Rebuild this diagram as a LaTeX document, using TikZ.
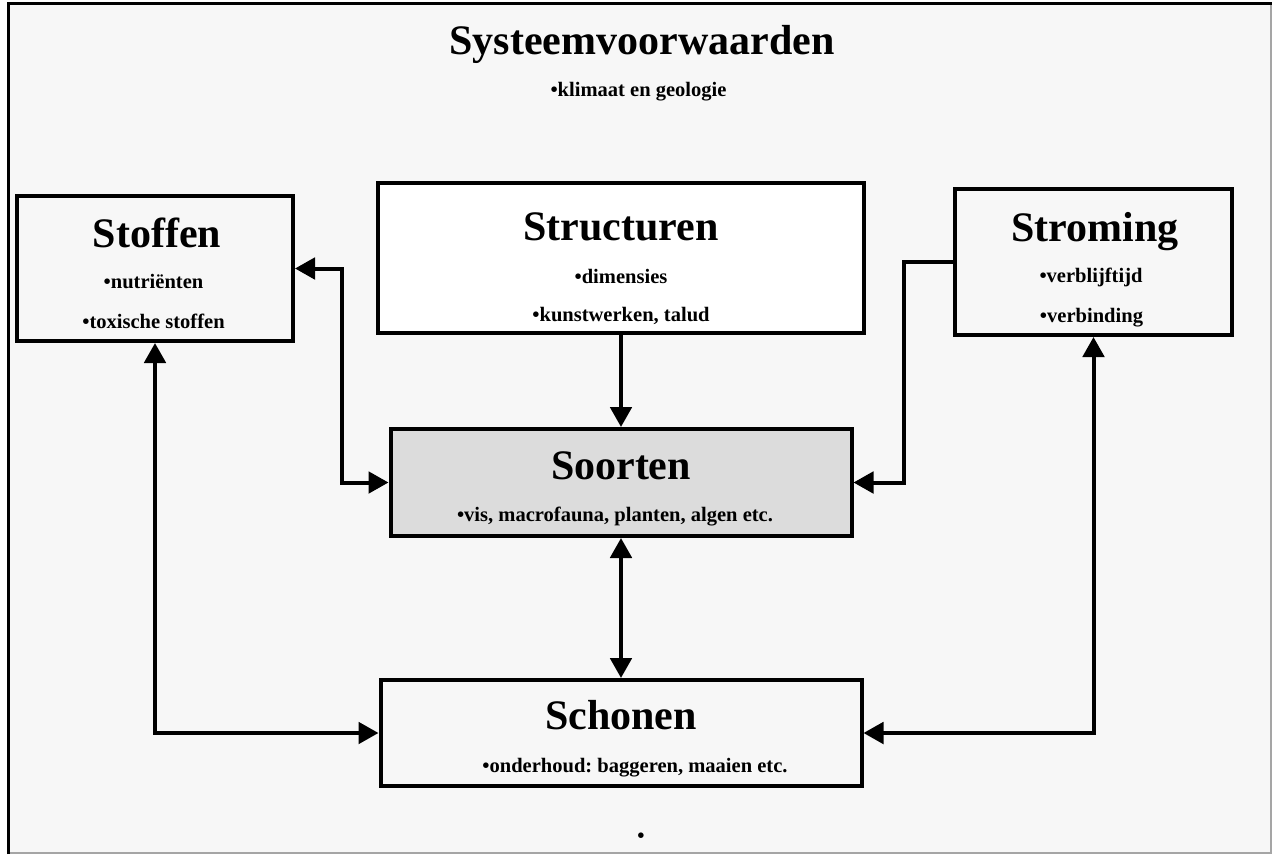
\documentclass[tikz,border=0pt]{standalone}
\usepackage{fontspec}
\setmainfont{Liberation Serif}
\usetikzlibrary{arrows.meta}
\frenchspacing

\definecolor{achtergrond}{RGB}{247,247,247}
\definecolor{soortgrijs}{RGB}{220,220,220}
\definecolor{randgrijs}{RGB}{165,165,165}

\tikzset{every picture/.style={line width=0.75pt}}
\tikzset{
  blok/.style={draw, line width=3pt, inner sep=0pt},
  kop/.style={anchor=base, inner sep=0pt, font=\fontsize{31.5}{36}\selectfont\bfseries},
  punt/.style={anchor=base, inner sep=0pt, font=\fontsize{15.4}{18}\selectfont\bfseries},
  pijl/.style={line width=3pt, -{Triangle[length=15pt,width=16pt]}},
  dubbelpijl/.style={line width=3pt, {Triangle[length=15pt,width=16pt]}-{Triangle[length=15pt,width=16pt]}},
}

\begin{document}
\begin{tikzpicture}[x=0.75pt,y=0.75pt,yscale=-1,xscale=1]
	\useasboundingbox (0,0) rectangle (1272,854);

	%Shape: Frame
	\fill [achtergrond] (7,2) rectangle (1272,854);
	\draw [randgrijs, line width=1.5pt] (1271,4) -- (1271,853) -- (9,853);
	\draw [line width=2.25pt] (8.5,854) -- (8.5,3.5) -- (1272,3.5);

	%Shape: Boxes
	\node [blok, minimum width=207pt, minimum height=108.75pt] (stoffen) at (155,268.5) {};
	\node [blok, fill=white, minimum width=364.5pt, minimum height=112.5pt] (structuren) at (621,258) {};
	\node [blok, minimum width=207.75pt, minimum height=109.5pt] (stroming) at (1093.5,262) {};
	\node [blok, fill=soortgrijs, minimum width=345.75pt, minimum height=80.25pt] (soorten) at (621,482.5) {};
	\node [blok, minimum width=360.75pt, minimum height=79.5pt] (schonen) at (621,733) {};

	%Straight Lines: links
	\coordinate (knikL) at (342,400);
	\coordinate (knikR) at (904,400);
	\draw [dubbelpijl] (stoffen.east) -| (knikL) |- (soorten.west);
	\draw [pijl] (structuren.south) -- (soorten.north);
	\draw [pijl] (stroming.west) -| (knikR) |- (soorten.east);
	\draw [dubbelpijl] (soorten.south) -- (schonen.north);
	\draw [dubbelpijl] (stoffen.south) |- (schonen.west);
	\draw [dubbelpijl] (stroming.south) |- (schonen.east);

	% Text Node
	\node [kop] (titel) at (642,54) {Systeemvoorwaarden};
	\node [punt] (titel-1) at (638.5,96) {•klimaat en geologie};
	% Text Node
	\node [kop] (stoffen-kop) at (157,247) {Stoffen};
	\node [punt] (stoffen-1) at (153.5,288) {•nutriënten};
	\node [punt] (stoffen-2) at (153.5,328) {•toxische stoffen};
	% Text Node
	\node [kop] (structuren-kop) at (621,240) {Structuren};
	\node [punt] (structuren-1) at (621,283) {•dimensies};
	\node [punt] (structuren-2) at (621,321) {•kunstwerken, talud};
	% Text Node
	\node [kop] (stroming-kop) at (1095,241) {Stroming};
	\node [punt] (stroming-1) at (1091,282) {•verblijftijd};
	\node [punt] (stroming-2) at (1091.5,322) {•verbinding};
	% Text Node
	\node [kop] (soorten-kop) at (621,479) {Soorten};
	\node [punt] (soorten-1) at (615,521) {•vis, macrofauna, planten, algen etc.};
	% Text Node
	\node [kop] (schonen-kop) at (621,729) {Schonen};
	\node [punt] (schonen-1) at (635,772) {•onderhoud: baggeren, maaien etc.};
	% Text Node
	\node [punt] (stip) at (641,842) {•};

\end{tikzpicture}
\end{document}
